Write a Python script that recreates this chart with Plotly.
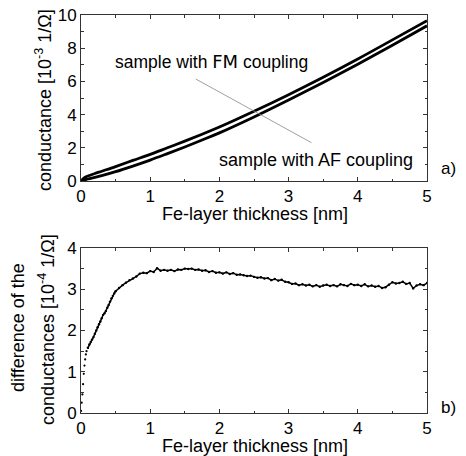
import plotly.graph_objects as go

# ---- data ----
x_top = [0, 0.05, 0.1, 0.2, 0.3, 0.5, 0.75, 1, 1.25, 1.5, 1.75, 2, 2.5, 3, 3.5, 4, 4.5, 5]
g_fm = [0, 0.2, 0.3, 0.45, 0.59, 0.87, 1.24, 1.6, 2.0, 2.4, 2.82, 3.25, 4.2, 5.2, 6.25, 7.35, 8.5, 9.66]
g_af = [0, 0.06, 0.12, 0.22, 0.32, 0.56, 0.9, 1.26, 1.65, 2.05, 2.47, 2.9, 3.86, 4.88, 5.94, 7.04, 8.18, 9.35]

x_diff = [0.00, 0.01, 0.02, 0.03, 0.04, 0.05, 0.06, 0.07, 0.08, 0.10, 0.12, 0.14, 0.16, 0.18,
          0.20, 0.22, 0.24, 0.26, 0.28, 0.30, 0.32, 0.34, 0.36, 0.38, 0.40, 0.42, 0.44, 0.46,
          0.48, 0.50, 0.55, 0.60, 0.65, 0.70, 0.75, 0.80, 0.85, 0.90, 0.95, 1.00, 1.05, 1.10,
          1.15, 1.20, 1.25, 1.30, 1.35, 1.40, 1.45, 1.50, 1.55, 1.60, 1.65, 1.70, 1.75, 1.80,
          1.85, 1.90, 1.95, 2.00, 2.05, 2.10, 2.15, 2.20, 2.25, 2.30, 2.35, 2.40, 2.45, 2.50,
          2.55, 2.60, 2.65, 2.70, 2.75, 2.80, 2.85, 2.90, 2.95, 3.00, 3.05, 3.10, 3.15, 3.20,
          3.25, 3.30, 3.35, 3.40, 3.45, 3.50, 3.55, 3.60, 3.65, 3.70, 3.75, 3.80, 3.85, 3.90,
          3.95, 4.00, 4.05, 4.10, 4.15, 4.20, 4.25, 4.30, 4.35, 4.40, 4.45, 4.50, 4.55, 4.60,
          4.65, 4.70, 4.75, 4.80, 4.85, 4.90, 4.95, 5.00]
g_diff = [0.05, 0.25, 0.45, 0.70, 0.95, 1.15, 1.30, 1.42, 1.50, 1.58, 1.66, 1.72, 1.78, 1.84,
          1.92, 2.00, 2.08, 2.15, 2.22, 2.30, 2.38, 2.42, 2.47, 2.55, 2.62, 2.70, 2.78, 2.84,
          2.90, 2.95, 3.03, 3.10, 3.16, 3.22, 3.26, 3.31, 3.38, 3.40, 3.39, 3.44, 3.42, 3.51,
          3.45, 3.47, 3.45, 3.47, 3.44, 3.48, 3.47, 3.50, 3.49, 3.50, 3.47, 3.48, 3.45, 3.46,
          3.42, 3.44, 3.40, 3.41, 3.38, 3.41, 3.37, 3.39, 3.35, 3.36, 3.34, 3.32, 3.33, 3.30,
          3.28, 3.29, 3.26, 3.27, 3.22, 3.25, 3.21, 3.23, 3.18, 3.17, 3.13, 3.14, 3.10, 3.12,
          3.09, 3.11, 3.07, 3.10, 3.06, 3.09, 3.11, 3.08, 3.10, 3.07, 3.12, 3.10, 3.08, 3.13,
          3.10, 3.11, 3.08, 3.12, 3.07, 3.09, 3.06, 3.08, 3.03, 3.05, 3.11, 3.17, 3.14, 3.15,
          3.18, 3.13, 3.15, 3.02, 3.09, 3.12, 3.10, 3.15]

x_title = "Fe-layer thickness [nm]"
y_title_top = "conductance [10<sup>-3</sup> 1/Ω]"
y_title_bot_1 = "difference of the"
y_title_bot_2 = "conductances [10<sup>-4</sup> 1/Ω]"

FONT = "Liberation Sans, Arial, sans-serif"
N_SPARSE = 10  # first points drawn as isolated dots

fig = go.Figure()
fig.add_trace(go.Scatter(x=x_top, y=g_fm, mode="lines", line=dict(color="black", width=2.8, shape="spline"),
                         xaxis="x", yaxis="y", showlegend=False))
fig.add_trace(go.Scatter(x=x_top, y=g_af, mode="lines", line=dict(color="black", width=2.8, shape="spline"),
                         xaxis="x", yaxis="y", showlegend=False))
fig.add_trace(go.Scatter(x=x_diff[:N_SPARSE], y=g_diff[:N_SPARSE], mode="markers",
                         marker=dict(color="black", size=2.2),
                         xaxis="x2", yaxis="y2", showlegend=False))
fig.add_trace(go.Scatter(x=x_diff[N_SPARSE - 1:], y=g_diff[N_SPARSE - 1:], mode="lines+markers",
                         line=dict(color="black", width=1.5),
                         marker=dict(color="black", size=2.4),
                         xaxis="x2", yaxis="y2", showlegend=False))

axis_common = dict(showgrid=False, zeroline=False, showline=True, linecolor="#333", linewidth=1,
                   mirror="allticks", ticks="inside", ticklen=4, tickcolor="#333", automargin=False,
                   ticklabeloverflow="allow",
                   tickfont=dict(family=FONT, size=17, color="black"))
tf = dict(family=FONT, size=18, color="black")

# page body has an 8px margin -> shrink the figure so the plot lands where the reference has it
W, H = 458, 448
L, T, R, B = 73, 7, 39, 43
PW, PH = W - L - R, H - T - B


def px(x):  # page pixel -> paper fraction
    return (x - 8 - L) / PW


def py(y):
    return (H - B + 8 - y) / PH


def ann(x, y, text, font, angle=0):
    return dict(xref="paper", yref="paper", x=px(x), y=py(y), xanchor="center", yanchor="middle",
                showarrow=False, text=text, font=font, textangle=angle)


fig.update_layout(
    width=W, height=H,
    margin=dict(l=L, r=R, t=T, b=B),
    paper_bgcolor="white", plot_bgcolor="white",
    xaxis=dict(axis_common, domain=[0, 1], anchor="y", range=[0, 5], dtick=1,
               minor=dict(dtick=0.5, ticks="inside", ticklen=2.5, tickcolor="#333")),
    yaxis=dict(axis_common, domain=[py(181), py(15)], anchor="x", range=[0, 10], dtick=2,
               minor=dict(dtick=1, ticks="inside", ticklen=2.5, tickcolor="#333")),
    xaxis2=dict(axis_common, domain=[0, 1], anchor="y2", range=[0, 5], dtick=1,
                minor=dict(dtick=0.5, ticks="inside", ticklen=2.5, tickcolor="#333")),
    yaxis2=dict(axis_common, domain=[0, py(248)], anchor="x2", range=[0, 4], dtick=1,
                minor=dict(dtick=0.5, ticks="inside", ticklen=2.5, tickcolor="#333")),
    shapes=[dict(type="line", xref="x", yref="y", x0=1.66, y0=6.14, x1=3.33, y1=2.31,
                 line=dict(color="#888", width=0.8))],
    annotations=[
        dict(xref="x", yref="y", x=1.88, y=7.17, showarrow=False, xanchor="center", yanchor="middle",
             text="sample with <span style='font-family:DejaVu Sans;font-size:18px'>FM</span> coupling",
             font=dict(family=FONT, size=17.5, color="black")),
        dict(xref="x", yref="y", x=3.40, y=1.27, showarrow=False, xanchor="center", yanchor="middle",
             text="sample with AF coupling", font=dict(family=FONT, size=18, color="black")),
        ann(255, 214, x_title, tf),
        ann(255, 446, x_title, tf),
        ann(44, 100, y_title_top, tf, -90),
        ann(18, 328, y_title_bot_1, tf, -90),
        ann(46, 330, y_title_bot_2, tf, -90),
        ann(448, 168, "a)", dict(family=FONT, size=17, color="black")),
        ann(448, 407, "b)", dict(family=FONT, size=17, color="black")),
    ],
)

fig.write_html("out.html")
